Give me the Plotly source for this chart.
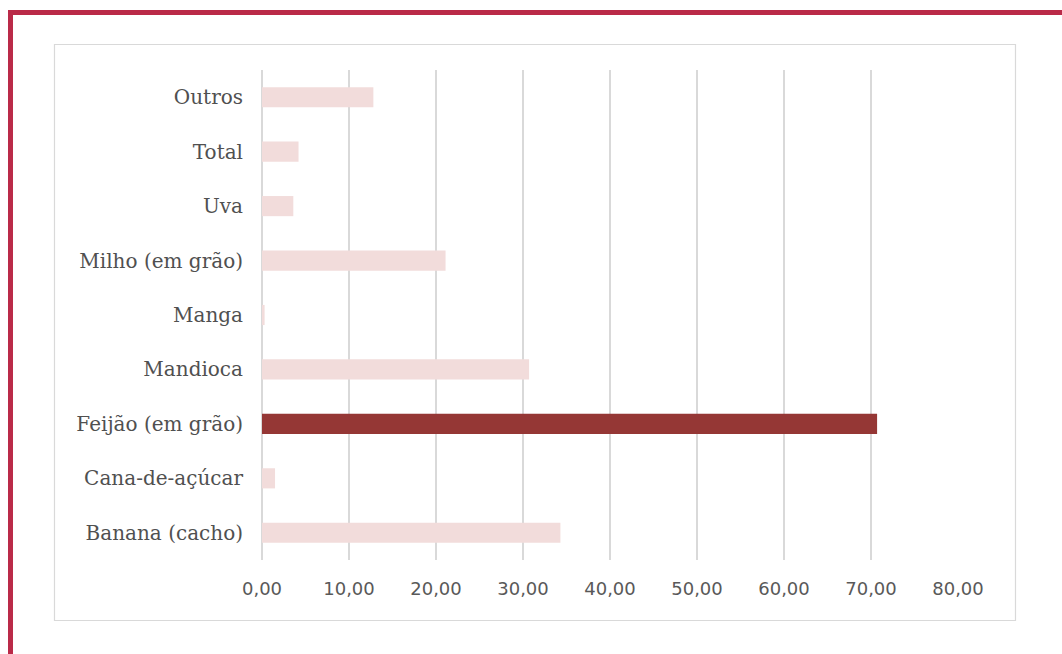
import plotly.graph_objects as go

categories = ["Banana (cacho)", "Cana-de-açúcar", "Feijão (em grão)", "Mandioca",
              "Manga", "Milho (em grão)", "Uva", "Total", "Outros"]
values = [34.3, 1.5, 70.7, 30.7, 0.3, 21.1, 3.6, 4.2, 12.8]
highlight = "Feijão (em grão)"
tick_vals = [0, 10, 20, 30, 40, 50, 60, 70, 80]
tick_text = ["0,00", "10,00", "20,00", "30,00", "40,00", "50,00", "60,00", "70,00", "80,00"]

LIGHT = "#F2DCDB"
DARK = "#953735"
colors = [DARK if c == highlight else LIGHT for c in categories]

W, H = 1062, 654
L, R, T, B = 262, 958, 70, 560

fig = go.Figure(go.Bar(
    x=values, y=categories, orientation="h",
    marker=dict(color=colors, line=dict(width=0)),
    width=0.37,
))

def px2paper_x(px):
    return (px - L) / (R - L)

def px2paper_y(py):
    return (B - py) / (B - T)

shapes = [
    # outer crimson frame
    dict(type="rect", xref="paper", yref="paper",
         x0=px2paper_x(10.5), x1=px2paper_x(1200), y0=px2paper_y(12.5), y1=px2paper_y(800),
         line=dict(color="#BA2A48", width=5), fillcolor="rgba(0,0,0,0)", layer="below"),
    # inner chart box
    dict(type="rect", xref="paper", yref="paper",
         x0=px2paper_x(54.5), x1=px2paper_x(1015.5), y0=px2paper_y(44.5), y1=px2paper_y(620.5),
         line=dict(color="#D9D9D9", width=1.2), fillcolor="rgba(0,0,0,0)", layer="below"),
]

fig.update_layout(
    width=W, height=H,
    margin=dict(l=L, r=W - R, t=T, b=H - B, pad=0),
    paper_bgcolor="white", plot_bgcolor="white",
    showlegend=False,
    shapes=shapes,
    bargap=0.63,
    xaxis=dict(
        range=[0, 80], tickvals=tick_vals, ticktext=tick_text,
        showgrid=True, gridcolor="#D9D9D9", gridwidth=1.5,
        zeroline=True, zerolinecolor="#D9D9D9", zerolinewidth=1.5,
        showline=False, ticks="",
        tickfont=dict(family="DejaVu Sans", size=18, color="#595959"),
        ticklabelstandoff=16,
    ),
    yaxis=dict(
        categoryorder="array", categoryarray=categories,
        showgrid=False, zeroline=False, showline=False, ticks="",
        tickfont=dict(family="DejaVu Serif", size=20, color="#505050"),
        ticklabelstandoff=18,
    ),
)

fig.write_html("out.html")
